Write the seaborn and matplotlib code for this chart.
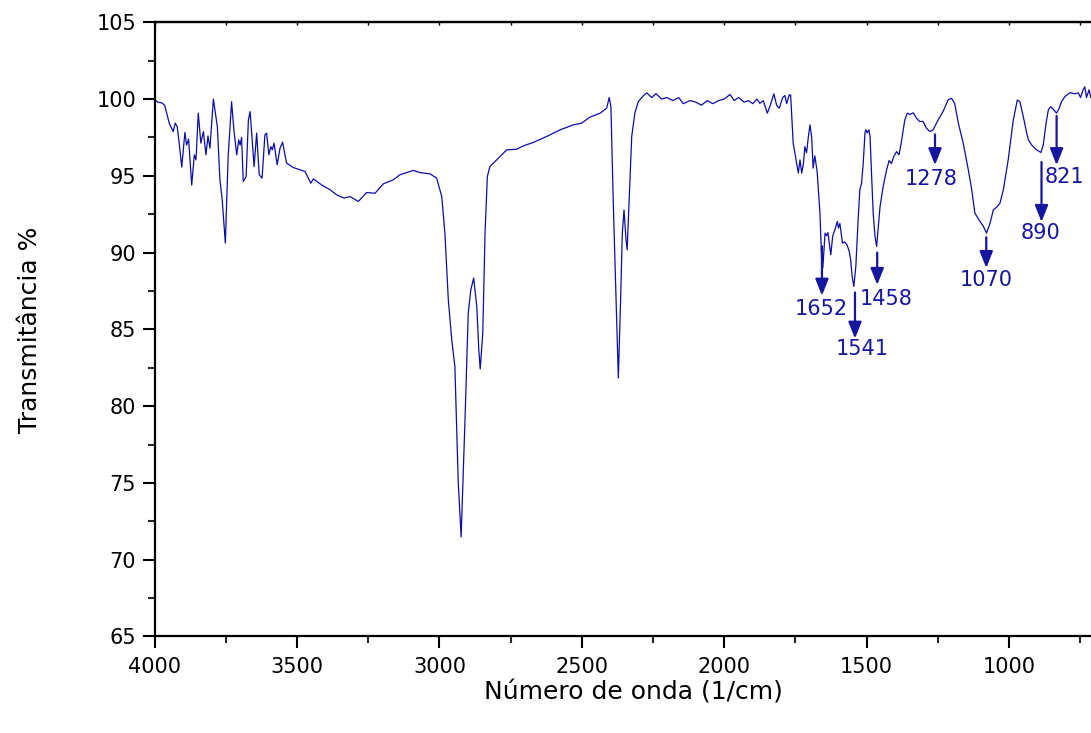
import matplotlib
matplotlib.use("Agg")
import matplotlib.pyplot as plt
import seaborn as sns
import pandas as pd
from matplotlib.ticker import MultipleLocator

# ---------------- data ----------------
wavenumber = [
    4000, 4000, 3990, 3975, 3965, 3949, 3935, 3928, 3921, 3914, 3905, 3894, 3888, 3881,
    3870, 3861, 3855, 3847, 3838, 3829, 3820, 3813, 3806, 3794, 3780, 3771, 3763, 3752,
    3742, 3730, 3722, 3712, 3705, 3700, 3695, 3689, 3679, 3671, 3665, 3651, 3642, 3633,
    3623, 3613, 3607, 3599, 3592, 3587, 3581, 3570, 3560, 3551, 3537, 3513, 3490, 3472,
    3452, 3443, 3414, 3384, 3361, 3335, 3314, 3285, 3256, 3226, 3197, 3162, 3139, 3092,
    3068, 3033, 3010, 2992, 2981, 2969, 2957, 2946, 2934, 2924, 2910, 2899, 2890, 2880,
    2869, 2862, 2857, 2848, 2840, 2832, 2823, 2799, 2764, 2729, 2706, 2671, 2624, 2577,
    2530, 2501, 2472, 2436, 2413, 2404, 2398, 2390, 2380, 2372, 2364, 2358, 2352, 2345,
    2341, 2334, 2325, 2314, 2302, 2285, 2272, 2255, 2240, 2220, 2202, 2180, 2160, 2144,
    2120, 2100, 2080, 2060, 2040, 2020, 2000, 1980, 1965, 1950, 1930, 1915, 1900, 1885,
    1875, 1863, 1849, 1840, 1826, 1816, 1807, 1795, 1787, 1781, 1772, 1767, 1758, 1748,
    1740, 1734, 1728, 1722, 1717, 1711, 1705, 1699, 1693, 1688, 1682, 1674, 1664, 1658,
    1654, 1646, 1641, 1636, 1626, 1619, 1611, 1603, 1599, 1594, 1585, 1577, 1569, 1561,
    1556, 1551, 1545, 1538, 1530, 1524, 1518, 1512, 1506, 1503, 1498, 1492, 1488, 1483,
    1477, 1471, 1465, 1459, 1453, 1442, 1430, 1421, 1413, 1405, 1395, 1386, 1377, 1366,
    1357, 1348, 1336, 1325, 1314, 1302, 1290, 1278, 1267, 1249, 1232, 1214, 1202, 1191,
    1178, 1161, 1143, 1131, 1120, 1102, 1090, 1079, 1067, 1055, 1041, 1032, 1020, 1003,
    985, 971, 962, 950, 938, 932, 921, 904, 888, 880, 870, 862, 854, 845, 833, 824, 816,
    804, 786, 769, 757, 749, 740, 734, 728, 719, 713, 700,
]
transmittance = [
    89.8, 100.0, 99.8, 99.75, 99.6, 98.43, 97.88, 98.43, 98.2, 97.13, 95.57, 97.82, 97.0, 97.4,
    94.4, 96.37, 96.04, 99.08, 97.13, 97.88, 96.37, 97.6, 96.8, 100.0, 98.2, 94.74, 93.44, 90.62,
    96.26, 99.83, 97.99, 96.37, 97.34, 97.0, 97.5, 94.63, 94.95, 98.64, 99.18, 95.6, 97.78, 95.07,
    94.85, 97.67, 97.78, 96.37, 96.9, 96.7, 97.13, 95.72, 96.8, 97.19, 95.83, 95.54, 95.39, 95.28,
    94.52, 94.8, 94.41, 94.09, 93.76, 93.55, 93.65, 93.33, 93.91, 93.87, 94.48, 94.74, 95.07, 95.35,
    95.21, 95.13, 94.85, 93.65, 91.27, 86.93, 84.33, 82.59, 75.0, 71.49, 79.34, 86.06, 87.58, 88.34,
    86.5, 83.68, 82.42, 84.77, 91.27, 94.95, 95.6, 96.04, 96.69, 96.73, 96.95, 97.17, 97.56, 97.99,
    98.32, 98.43, 98.82, 99.08, 99.4, 100.1, 99.5, 93.44, 86.93, 81.83, 86.93, 91.27, 92.78, 90.83,
    90.18, 93.44, 97.56, 99.08, 99.83, 100.2, 100.4, 100.1, 100.35, 100.0, 100.1, 99.9, 100.1, 99.7,
    99.9, 99.8, 99.6, 99.9, 99.7, 99.9, 100.0, 100.3, 99.9, 100.1, 99.8, 99.9, 99.7, 100.0,
    99.72, 99.9, 99.08, 99.5, 100.34, 99.6, 99.4, 100.1, 100.23, 99.7, 100.27, 100.27, 97.13, 96.04,
    95.18, 96.04, 95.18, 95.8, 96.9, 96.5, 97.5, 98.32, 97.5, 95.5, 96.3, 95.3, 92.57, 89.5,
    89.0, 91.27, 91.1, 91.3, 89.86, 91.1, 91.5, 92.03, 91.6, 91.9, 90.62, 90.7, 90.5, 90.08,
    89.5, 88.45, 87.8, 89.1, 92.14, 94.09, 94.5, 95.83, 97.78, 98.0, 97.8, 98.0, 97.56, 95.18,
    92.57, 91.1, 90.4, 91.7, 93.0, 94.3, 95.39, 96.0, 95.8, 96.25, 96.58, 96.37, 97.34, 98.64,
    99.08, 99.0, 99.1, 98.75, 98.54, 98.54, 98.1, 97.88, 97.99, 98.64, 99.18, 99.94, 100.05, 99.72,
    98.43, 97.13, 95.39, 94.09, 92.57, 92.03, 91.7, 91.27, 91.9, 92.79, 93.0, 93.22, 94.09, 96.04,
    98.64, 99.94, 99.83, 98.86, 97.78, 97.34, 97.02, 96.7, 96.52, 97.0, 98.43, 99.29, 99.5, 99.34, 99.08, 99.4, 99.83,
    100.16, 100.42, 100.34, 100.4, 100.1, 100.6, 100.8, 100.1, 100.6, 100.1, 100.3,
]

# peak annotations
peak_labels = ["1652", "1541", "1458", "1278", "1070", "890", "821"]
arrow_x = [1657, 1541, 1463, 1260, 1080, 886, 833]
arrow_tail = [90.4, 87.4, 90.0, 97.7, 91.0, 95.9, 98.9]
arrow_tip = [87.2, 84.4, 87.9, 95.7, 89.0, 92.0, 95.7]
label_x = [1660, 1514, 1432, 1272, 1081, 888, 807]
label_y = [86.3, 83.7, 87.0, 94.8, 88.2, 91.3, 94.95]

x_ticks = [4000, 3500, 3000, 2500, 2000, 1500, 1000]
y_ticks = [65, 70, 75, 80, 85, 90, 95, 100, 105]

# ---------------- plot ----------------
sns.set_style("ticks")
plt.rcParams["font.family"] = ["DejaVu Sans"]

line_color = "#0c0ca8"
ann_color = "#1515a0"

df = pd.DataFrame({"w": wavenumber, "T": transmittance})

fig = plt.figure(figsize=(10.91, 7.33), dpi=100)
ax = fig.add_axes([0.1418, 0.1317, 0.9397, 0.8379])

sns.lineplot(data=df, x="w", y="T", estimator=None, sort=False,
             color=line_color, linewidth=0.9, ax=ax)

ax.set_xlim(4000, 400)
ax.set_ylim(65, 105)
ax.set_xticks(x_ticks)
ax.set_yticks(y_ticks)
ax.xaxis.set_minor_locator(MultipleLocator(250))
ax.yaxis.set_minor_locator(MultipleLocator(2.5))

for s in ["left", "top", "bottom", "right"]:
    ax.spines[s].set_visible(True)
    ax.spines[s].set_linewidth(1.6)
    ax.spines[s].set_color("black")

ax.tick_params(axis="both", which="major", direction="out", length=8.5, width=1.5,
               labelsize=15, colors="black", pad=5)
ax.tick_params(axis="both", which="minor", direction="out", length=5, width=1.5)
ax.tick_params(axis="x", which="both", top=False, labeltop=False)
ax.tick_params(axis="x", which="major", pad=6)

# small inward ticks on the top frame
sec = ax.secondary_xaxis("top")
sec.set_xticks(x_ticks)
sec.xaxis.set_minor_locator(MultipleLocator(250))
sec.tick_params(axis="x", which="both", direction="in", length=2.5, width=1.0,
                labeltop=False, colors="black")
sec.spines["top"].set_linewidth(1.6)
sec.spines["top"].set_color("black")

ax.set_xlabel("Número de onda (1/cm)", fontsize=18, color="black")
ax.set_ylabel("Transmitância %", fontsize=18, color="black")
ax.xaxis.set_label_coords(0.467, -0.072)
ax.yaxis.set_label_coords(-0.11, 0.5)

for lab, ax_x, t0, t1, lx, ly in zip(peak_labels, arrow_x, arrow_tail, arrow_tip, label_x, label_y):
    ax.annotate("", xy=(ax_x, t1), xytext=(ax_x, t0),
                arrowprops=dict(arrowstyle="-|>,head_length=0.5,head_width=0.2",
                                mutation_scale=20, lw=1.6, color=ann_color,
                                shrinkA=0, shrinkB=0))
    ax.text(lx, ly, lab, ha="center", va="center", fontsize=15, color=ann_color)

ax.set_facecolor("white")
fig.patch.set_facecolor("white")
fig.savefig("out.png", dpi=100)
